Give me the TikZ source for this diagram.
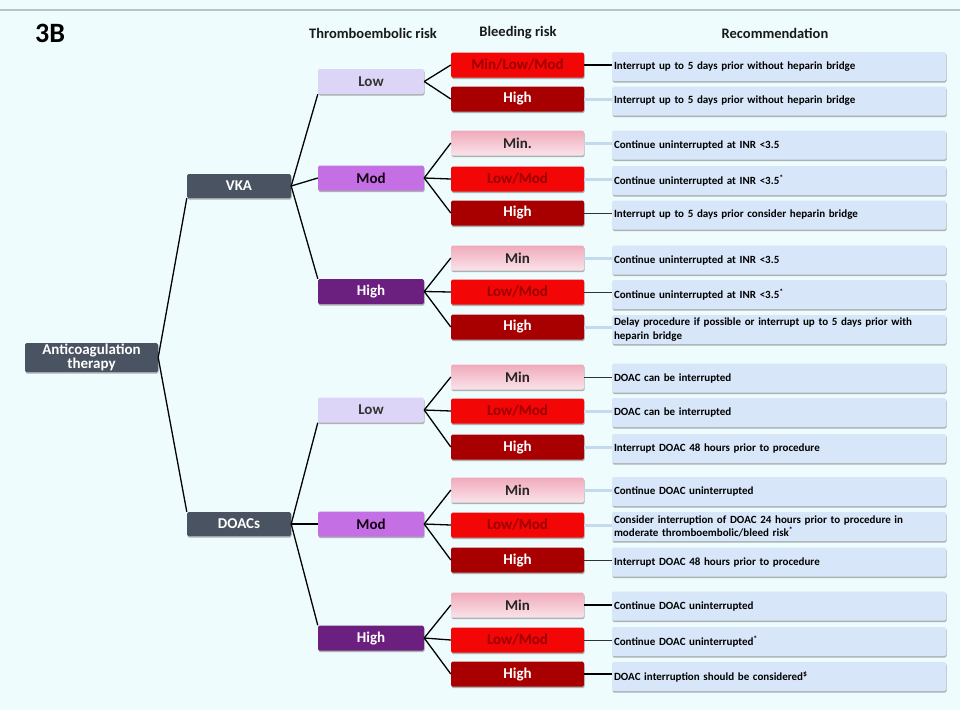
\documentclass[tikz,border=0pt]{standalone}
\usepackage{fontspec}
\setmainfont{Carlito}
\usetikzlibrary{shadows}

\definecolor{bgcyan}{HTML}{EEFCFD}
\definecolor{topgray}{HTML}{B4C5CC}
\definecolor{slate}{HTML}{4A5361}
\definecolor{lowlav}{HTML}{DDD5F7}
\definecolor{modpurple}{HTML}{C46FE4}
\definecolor{highpurple}{HTML}{6B1F7E}
\definecolor{minpink}{HTML}{F0AABA}
\definecolor{minpinklight}{HTML}{FAE3EA}
\definecolor{modred}{HTML}{F20606}
\definecolor{darkred}{HTML}{A80000}
\definecolor{redtext}{HTML}{9C0000}
\definecolor{recblue}{HTML}{D7E6F8}
\definecolor{faintblue}{HTML}{C6DAEE}

\begin{document}
\begin{tikzpicture}[x=1pt, y=-1pt,
    box/.style={rectangle, rounded corners=1.5pt, inner sep=0pt, align=center,
        font=\bfseries\fontsize{15}{14}\selectfont,
        drop shadow={shadow xshift=0.6pt, shadow yshift=-1.6pt, opacity=0.6}},
    drugbox/.style={box, fill=slate, text=white, minimum width=104pt, minimum height=24pt},
    thrlow/.style={box, fill=lowlav, text=black!80, minimum width=106pt, minimum height=25pt},
    thrmod/.style={box, fill=modpurple, text=black!85!violet, minimum width=106pt, minimum height=25pt},
    thrhigh/.style={box, fill=highpurple, text=white, minimum width=106pt, minimum height=25pt},
    bleedmin/.style={box, top color=minpink, bottom color=minpinklight, text=black!85, minimum width=133pt, minimum height=25pt},
    bleedmod/.style={box, fill=modred, text=redtext, minimum width=133pt, minimum height=25pt},
    bleedhigh/.style={box, fill=darkred, text=white, minimum width=133pt, minimum height=25pt},
    recbox/.style={box, fill=recblue, text=black, minimum width=334pt, minimum height=29pt,
        text width=330pt, inner xsep=2pt, align=left, font=\bfseries\fontsize{11}{13.5}\selectfont},
    header/.style={font=\bfseries\fontsize{14.5}{16}\selectfont, text=black!90},
    tree/.style={black, line width=1.3pt},
    solidlink/.style={black, line width=1.7pt},
    thinlink/.style={black!80, line width=1pt},
    faintlink/.style={faintblue, line width=3pt}]

    % Canvas and top rule
    \fill[bgcyan] (0,0) rectangle (960,710);
    \useasboundingbox (0,0) rectangle (960,710);
    \draw[topgray, line width=2pt] (0,10) -- (960,10);

    % Titles
    \node[font=\bfseries\fontsize{28}{30}\selectfont, anchor=west, inner sep=0pt] (title) at (35,33) {3B};
    \node[header] (thead) at (373,33) {Thromboembolic risk};
    \node[header] (bhead) at (518,33) {Bleeding risk};
    \node[header] (rhead) at (775,33) {Recommendation};

    % Root and drugs
    \node[box, fill=slate, text=white, minimum width=133pt, minimum height=29pt] (therapy) at (91.5,357.5) {Anticoagulation\\therapy};
    \node[drugbox] (vka) at (239,186) {VKA};
    \node[drugbox] (doac) at (239,524) {DOACs};

    % Thromboembolic risk
    \node[thrlow] (vlow) at (371,81.5) {Low};
    \node[thrmod] (vmod) at (371,178) {Mod};
    \node[thrhigh] (vhigh) at (371,291.5) {High};
    \node[thrlow] (dlow) at (371,410) {Low};
    \node[thrmod] (dmod) at (371,524) {Mod};
    \node[thrhigh] (dhigh) at (371,638) {High};

    % Bleeding risk
    \node[bleedmod] (b1) at (517.5,65) {Min/Low/Mod};
    \node[bleedhigh] (b2) at (517.5,99) {High};
    \node[bleedmin] (b3) at (517.5,143) {Min.};
    \node[bleedmod] (b4) at (517.5,179) {Low/Mod};
    \node[bleedhigh] (b5) at (517.5,213) {High};
    \node[bleedmin] (b6) at (517.5,258) {Min};
    \node[bleedmod] (b7) at (517.5,292) {Low/Mod};
    \node[bleedhigh] (b8) at (517.5,327) {High};
    \node[bleedmin] (b9) at (517.5,377) {Min};
    \node[bleedmod] (b10) at (517.5,411) {Low/Mod};
    \node[bleedhigh] (b11) at (517.5,447) {High};
    \node[bleedmin] (b12) at (517.5,490) {Min};
    \node[bleedmod] (b13) at (517.5,525) {Low/Mod};
    \node[bleedhigh] (b14) at (517.5,560) {High};
    \node[bleedmin] (b15) at (517.5,605) {Min};
    \node[bleedmod] (b16) at (517.5,640) {Low/Mod};
    \node[bleedhigh] (b17) at (517.5,674) {High};

    % Recommendations
    \node[recbox] (r1) at (779,66.5) {Interrupt up to 5 days prior without heparin bridge};
    \node[recbox] (r2) at (779,101) {Interrupt up to 5 days prior without heparin bridge};
    \node[recbox] (r3) at (779,145) {Continue uninterrupted at INR <3.5};
    \node[recbox] (r4) at (779,180.5) {Continue uninterrupted at INR <3.5\textsuperscript{*}};
    \node[recbox] (r5) at (779,215) {Interrupt up to 5 days prior consider heparin bridge};
    \node[recbox] (r6) at (779,260) {Continue uninterrupted at INR <3.5};
    \node[recbox] (r7) at (779,294.5) {Continue uninterrupted at INR <3.5\textsuperscript{*}};
    \node[recbox] (r8) at (779,329.5) {Delay procedure if possible or interrupt up to 5 days prior with\\heparin bridge};
    \node[recbox] (r9) at (779,378) {DOAC can be interrupted};
    \node[recbox] (r10) at (779,412.5) {DOAC can be interrupted};
    \node[recbox] (r11) at (779,448.5) {Interrupt DOAC 48 hours prior to procedure};
    \node[recbox] (r12) at (779,491.5) {Continue DOAC uninterrupted};
    \node[recbox] (r13) at (779,526.5) {Consider interruption of DOAC 24 hours prior to procedure in\\moderate thromboembolic/bleed risk\textsuperscript{*}};
    \node[recbox] (r14) at (779,562) {Interrupt DOAC 48 hours prior to procedure};
    \node[recbox] (r15) at (779,606) {Continue DOAC uninterrupted};
    \node[recbox] (r16) at (779,641.5) {Continue DOAC uninterrupted\textsuperscript{*}};
    \node[recbox] (r17) at (779,676.5) {DOAC interruption should be considered\textsuperscript{\$}};

    % Tree: therapy to drugs to thromboembolic risk
    \draw[tree] (therapy.east) -- (vka.south west);
    \draw[tree] (therapy.east) -- (doac.north west);
    \draw[tree] (vka.east) -- (vlow.south west);
    \draw[tree] (vka.east) -- (vmod.west);
    \draw[tree] (vka.east) -- (vhigh.north west);
    \draw[tree] (doac.east) -- (dlow.south west);
    \draw[tree] (doac.east) -- (dmod.west);
    \draw[tree] (doac.east) -- (dhigh.north west);

    % Tree: thromboembolic risk to bleeding risk
    \draw[tree] (vlow.east) -- (b1.west);
    \draw[tree] (vlow.east) -- (b2.west);
    \draw[tree] (vmod.east) -- (b3.west);
    \draw[tree] (vmod.east) -- (b4.west);
    \draw[tree] (vmod.east) -- (b5.west);
    \draw[tree] (vhigh.east) -- (b6.west);
    \draw[tree] (vhigh.east) -- (b7.west);
    \draw[tree] (vhigh.east) -- (b8.west);
    \draw[tree] (dlow.east) -- (b9.west);
    \draw[tree] (dlow.east) -- (b10.west);
    \draw[tree] (dlow.east) -- (b11.west);
    \draw[tree] (dmod.east) -- (b12.west);
    \draw[tree] (dmod.east) -- (b13.west);
    \draw[tree] (dmod.east) -- (b14.west);
    \draw[tree] (dhigh.east) -- (b15.west);
    \draw[tree] (dhigh.east) -- (b16.west);
    \draw[tree] (dhigh.east) -- (b17.west);

    % Links: bleeding risk to recommendation
    \draw[solidlink] (b1.east) -- (b1.east -| r1.west);
    \draw[faintlink] (b2.east) -- (b2.east -| r2.west);
    \draw[faintlink] (b3.east) -- (b3.east -| r3.west);
    \draw[faintlink] (b4.east) -- (b4.east -| r4.west);
    \draw[thinlink] (b5.east) -- (b5.east -| r5.west);
    \draw[faintlink] (b6.east) -- (b6.east -| r6.west);
    \draw[thinlink] (b7.east) -- (b7.east -| r7.west);
    \draw[faintlink] (b8.east) -- (b8.east -| r8.west);
    \draw[thinlink] (b9.east) -- (b9.east -| r9.west);
    \draw[faintlink] (b10.east) -- (b10.east -| r10.west);
    \draw[faintlink] (b11.east) -- (b11.east -| r11.west);
    \draw[faintlink] (b12.east) -- (b12.east -| r12.west);
    \draw[faintlink] (b13.east) -- (b13.east -| r13.west);
    \draw[thinlink] (b14.east) -- (b14.east -| r14.west);
    \draw[solidlink] (b15.east) -- (b15.east -| r15.west);
    \draw[thinlink] (b16.east) -- (b16.east -| r16.west);
    \draw[solidlink] (b17.east) -- (b17.east -| r17.west);
\end{tikzpicture}
\end{document}
